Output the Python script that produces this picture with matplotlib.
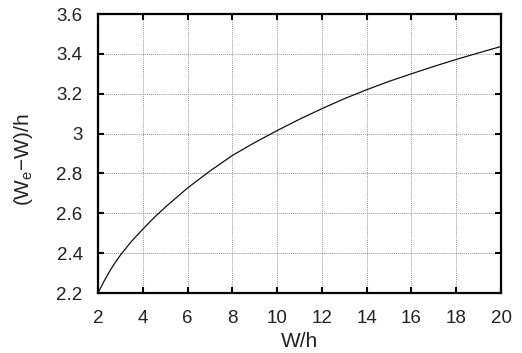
import matplotlib
matplotlib.use('Agg')
import matplotlib.pyplot as plt

# values
w_h = [2, 2.25, 2.5, 2.75, 3, 3.5, 4, 4.5, 5, 6, 7, 8, 9, 10, 11, 12, 13, 14, 15, 16, 17, 18, 19, 20]
ratio = [2.2, 2.255, 2.305, 2.35, 2.39, 2.46, 2.52, 2.578, 2.63, 2.727, 2.812, 2.89, 2.955, 3.015, 3.072, 3.125, 3.175, 3.22, 3.262, 3.30, 3.337, 3.372, 3.405, 3.437]

xticks = [2, 4, 6, 8, 10, 12, 14, 16, 18, 20]
yticks = [2.2, 2.4, 2.6, 2.8, 3.0, 3.2, 3.4, 3.6]
ylabels = ['2.2', '2.4', '2.6', '2.8', '3', '3.2', '3.4', '3.6']

plt.rcParams['font.family'] = ['Liberation Sans', 'DejaVu Sans']
txt = '#222222'

fig = plt.figure(figsize=(5.22, 3.53), dpi=100)
ax = fig.add_axes([98/522, 1 - 293/353, (501-98)/522, (293-14)/353])

ax.plot(w_h, ratio, color='#111111', lw=0.9)

ax.set_xlim(2, 20)
ax.set_ylim(2.2, 3.6)
ax.set_xticks(xticks)
ax.set_xticklabels([str(t) for t in xticks])
ax.set_yticks(yticks)
ax.set_yticklabels(ylabels)
ax.grid(True, color='#999999', linestyle=(0, (1, 1)), lw=0.7)

ax.tick_params(direction='in', length=4, width=1.5, top=True, right=True,
               labelsize=13.5, labelcolor=txt, pad=12)
ax.tick_params(axis='y', pad=11)
for s in ax.spines.values():
    s.set_linewidth(1.6)

ax.set_xlabel('W/h', fontsize=15, color=txt)
ax.set_ylabel('(W$_\\mathregular{e}$\u2212W)/h', fontsize=15, color=txt)
ax.xaxis.set_label_coords(0.5, (293 - 351) / 279)
ax.xaxis.label.set_va('bottom')
ax.yaxis.set_label_coords((35 - 98) / 403, (293 - 160) / 279)

fig.savefig('out.png', dpi=100)
